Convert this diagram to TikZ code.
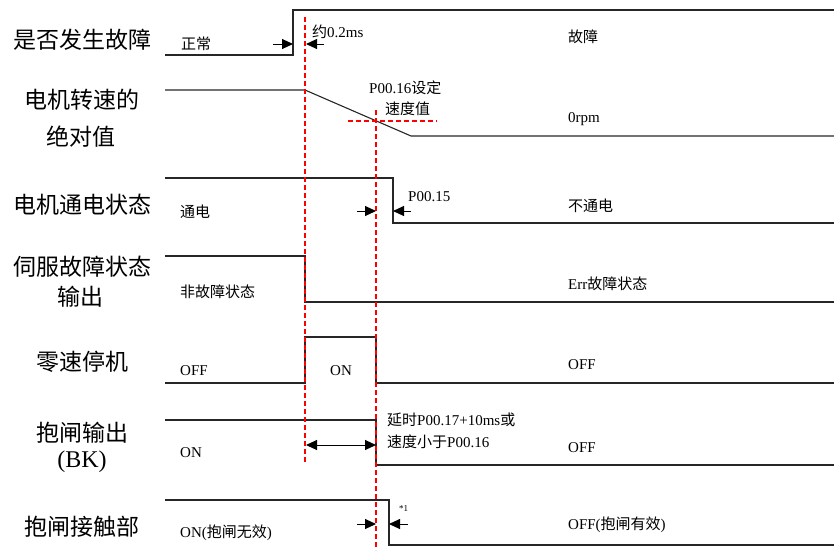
\documentclass[tikz,border=0pt]{standalone}
\usepackage{fontspec}
\setmainfont{Liberation Serif}
\newfontfamily\cjk{Noto Sans CJK SC}
\usetikzlibrary{arrows.meta}
\begin{document}
\begin{tikzpicture}[x=1pt,y=-1pt,
  sig/.style={line width=1.1pt, draw=black!85, line join=miter},
  guide/.style={color=red, dash pattern=on 5pt off 3pt, line width=1.2pt},
  vguide/.style={guide, line width=1.5pt},
  tip/.tip={Triangle[length=11pt,width=10pt]},
  dimarrow/.style={line width=1pt, -tip},
  dimboth/.style={line width=1pt, tip-tip},
  lab/.style={inner sep=0, font=\fontsize{23}{27}\selectfont\cjk},
  latlab/.style={inner sep=0, font=\fontsize{24}{28}\selectfont},
  txt/.style={inner sep=0, anchor=west, font=\fontsize{15}{18}\selectfont},
  tiny/.style={inner sep=0, anchor=west, font=\fontsize{9}{11}\selectfont},
]
\useasboundingbox (0,0) rectangle (834,550);

% left labels
\node[lab] (l1) at (82,40) {是否发生故障};
\node[lab] (l2a) at (82,100) {电机转速的};
\node[lab] (l2b) at (81,137) {绝对值};
\node[lab] (l3) at (82,205) {电机通电状态};
\node[lab] (l4a) at (82,267) {伺服故障状态};
\node[lab] (l4b) at (80,297) {输出};
\node[lab] (l5) at (82,362) {零速停机};
\node[lab] (l6a) at (82,433) {抱闸输出};
\node[latlab] (l6b) at (82,462) {(BK)};
\node[lab] (l7) at (82,527) {抱闸接触部};

% signals
\draw[sig] (165,55) -- (293,55) -- (293,10) -- (834,10);
\draw[sig] (165,90) -- (305,90) -- (411,136) -- (834,136);
\draw[sig] (165,178) -- (393,178) -- (393,223) -- (834,223);
\draw[sig] (165,256) -- (305,256) -- (305,302) -- (834,302);
\draw[sig] (165,383) -- (305,383) -- (305,337) -- (376,337) -- (376,383) -- (834,383);
\draw[sig] (165,420) -- (376,420) -- (376,465) -- (834,465);
\draw[sig] (165,500) -- (389,500) -- (389,545) -- (834,545);

% guides
\draw[vguide] (305,17) -- (305,462);
\draw[vguide] (376,110) -- (376,550);
\draw[guide] (348,121) -- (437,121);

% dimension arrows
\coordinate (a1s) at (273,44); \coordinate (a1e) at (293,44);
\coordinate (b1s) at (324,44); \coordinate (b1e) at (306,44);
\draw[dimarrow] (a1s) -- (a1e);
\draw[dimarrow] (b1s) -- (b1e);

\coordinate (a3s) at (357,211); \coordinate (a3e) at (376,211);
\coordinate (b3s) at (411,211); \coordinate (b3e) at (393,211);
\draw[dimarrow] (a3s) -- (a3e);
\draw[dimarrow] (b3s) -- (b3e);

\coordinate (d6s) at (306,445); \coordinate (d6e) at (376,445);
\draw[dimboth] (d6s) -- (d6e);

\coordinate (a7s) at (357,524); \coordinate (a7e) at (376,524);
\coordinate (b7s) at (408,524); \coordinate (b7e) at (389,524);
\draw[dimarrow] (a7s) -- (a7e);
\draw[dimarrow] (b7s) -- (b7e);

% small texts
\node[txt] (t1) at (181,44) {\cjk 正常};
\node[txt] (t2) at (312,32) {{\cjk 约}0.2ms};
\node[txt] (t3) at (568,37) {\cjk 故障};
\node[txt] (t4) at (369,88) {P00.16{\cjk 设定}};
\node[txt] (t5) at (385,109) {\cjk 速度值};
\node[txt] (t6) at (568,119) {0rpm};
\node[txt] (t7) at (408,197) {P00.15};
\node[txt] (t8) at (568,206) {\cjk 不通电};
\node[txt] (t9) at (180,212) {\cjk 通电};
\node[txt] (t10) at (180,292) {\cjk 非故障状态};
\node[txt] (t11) at (568,284) {Err{\cjk 故障状态}};
\node[txt] (t12) at (180,371) {OFF};
\node[txt] (t13) at (330,371) {ON};
\node[txt] (t14) at (568,365) {OFF};
\node[txt] (t15) at (387,420) {{\cjk 延时}P00.17+10ms{\cjk 或}};
\node[txt] (t16) at (387,442) {{\cjk 速度小于}P00.16};
\node[txt] (t17) at (180,453) {ON};
\node[txt] (t18) at (568,448) {OFF};
\node[tiny] (t19) at (399,509) {*1};
\node[txt] (t20) at (180,533) {ON({\cjk 抱闸无效})};
\node[txt] (t21) at (568,525) {OFF({\cjk 抱闸有效})};
\end{tikzpicture}
\end{document}
